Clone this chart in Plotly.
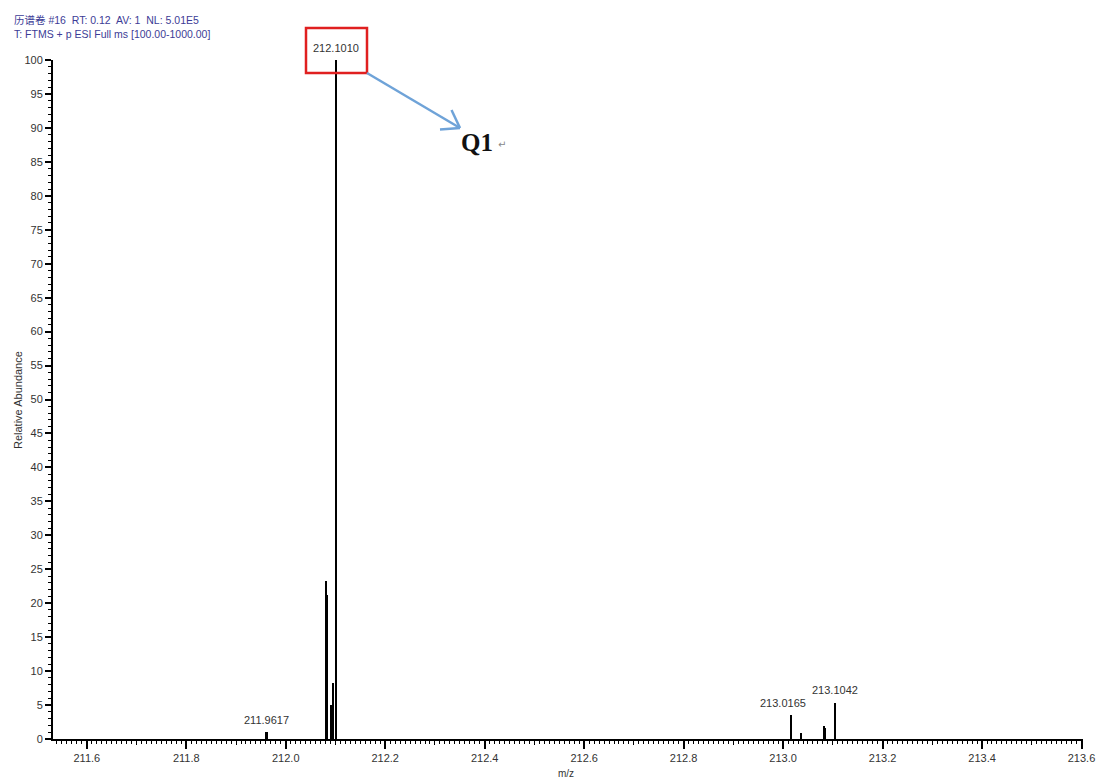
import plotly.graph_objects as go

# Centroided peaks: m/z and relative abundance (%)
mz = [211.9617, 212.0815, 212.0835, 212.0925, 212.0960, 212.1010,
      213.0165, 213.0367, 213.0830, 213.0850, 213.1042]
abundance = [1.0, 23.3, 21.2, 5.0, 8.2, 100.0,
             3.6, 0.9, 1.9, 1.6, 5.3]

# Peaks that carry an m/z label
labeled_mz = [211.9617, 212.1010, 213.0165, 213.1042]

header_lines = ["历谱卷 #16  RT: 0.12  AV: 1  NL: 5.01E5",
                "T: FTMS + p ESI Full ms [100.00-1000.00]"]

x_range = [211.532, 213.603]
y_range = [0, 100]

W, H = 1099, 782
ML, MR, MT, MB = 53, 16, 60, 43
PW, PH = W - ML - MR, H - MT - MB


def px(x):
    return (x - ML) / PW


def py(y):
    return (H - MB - y) / PH


fig = go.Figure()
fig.add_trace(go.Bar(x=mz, y=abundance,
                     width=[0.0045 if a >= 99 else 0.0032 for a in abundance],
                     marker=dict(color="black", line=dict(width=0)),
                     hoverinfo="x+y"))
# helper trace for the secondary tick axis (0.1 ticks)
fig.add_trace(go.Scatter(x=x_range, y=[None, None], xaxis="x2",
                         mode="lines", showlegend=False, hoverinfo="skip"))

tick_font = dict(family="Liberation Sans, Arial", size=11, color="#333333")

fig.update_layout(
    template="none",
    width=W, height=H,
    margin=dict(l=ML, r=MR, t=MT, b=MB, autoexpand=False),
    paper_bgcolor="white", plot_bgcolor="white",
    showlegend=False, bargap=0,
    xaxis=dict(range=x_range, dtick=0.2, tick0=211.6, tickformat=".1f",
               automargin=False,
               ticks="outside", ticklen=8, tickwidth=1.5, tickcolor="black",
               showline=True, linecolor="black", linewidth=2,
               showgrid=False, zeroline=False, tickfont=tick_font,
               minor=dict(dtick=0.01, tick0=211.6, ticks="outside",
                          ticklen=3, tickwidth=1, tickcolor="black",
                          showgrid=False)),
    xaxis2=dict(range=x_range, overlaying="x", anchor="y", side="bottom",
                automargin=False,
                dtick=0.1, tick0=211.6, ticks="outside", ticklen=5,
                tickwidth=1, tickcolor="black", showticklabels=False,
                showline=False, showgrid=False, zeroline=False),
    yaxis=dict(range=y_range, dtick=5, ticks="outside", ticklen=6,
               automargin=False,
               tickwidth=1.5, tickcolor="black",
               showline=True, linecolor="black", linewidth=2,
               showgrid=False, zeroline=False, tickfont=tick_font,
               minor=dict(dtick=1, ticks="outside", ticklen=3,
                          tickwidth=1, tickcolor="black", showgrid=False)),
)

annotations = []
label_offsets = {211.9617: (0, 4), 212.1010: (0, 4),
                 213.0165: (-8, 4), 213.1042: (0, 5)}
for m in labeled_mz:
    a = abundance[mz.index(m)]
    dx, dy = label_offsets[m]
    annotations.append(dict(x=m, y=a, xref="x", yref="y", text=f"{m:.4f}",
                            showarrow=False, xanchor="center",
                            yanchor="bottom", xshift=dx, yshift=dy,
                            font=dict(family="Liberation Sans, Arial",
                                      size=11, color="#333333")))

# header lines
for i, line in enumerate(header_lines):
    annotations.append(dict(x=px(12), y=py(20 + 14 * i), xref="paper",
                            yref="paper", text=line, showarrow=False,
                            xanchor="left", yanchor="middle",
                            font=dict(family="Liberation Sans, Noto Sans CJK SC",
                                      size=10.5, color="#3c3c96")))

# axis titles
annotations.append(dict(x=px(18), y=py(400), xref="paper", yref="paper",
                        text="Relative Abundance", textangle=-90,
                        showarrow=False, xanchor="center", yanchor="middle",
                        font=dict(family="Liberation Sans, Arial", size=11,
                                  color="#333333")))
annotations.append(dict(x=px(566), y=py(773), xref="paper", yref="paper",
                        text="m/z", showarrow=False, xanchor="center",
                        yanchor="middle",
                        font=dict(family="Liberation Sans, Arial", size=10,
                                  color="#333333")))

# Q1 callout
annotations.append(dict(x=px(459), y=py(142), xref="paper", yref="paper",
                        text="<b>Q1</b>", showarrow=False, xanchor="left",
                        yanchor="middle",
                        font=dict(family="Liberation Serif, Times New Roman",
                                  size=25, color="#111111")))
annotations.append(dict(x=px(496), y=py(144), xref="paper", yref="paper",
                        text="↵", showarrow=False, xanchor="left",
                        yanchor="middle",
                        font=dict(family="DejaVu Sans", size=10,
                                  color="#888888")))
fig.update_layout(annotations=annotations)

shapes = [
    dict(type="rect", xref="paper", yref="paper",
         x0=px(306), x1=px(367), y0=py(73), y1=py(28),
         line=dict(color="#e02020", width=2.5)),
]
arrow_color = "#6fa3d8"
head = (460, 128)
for (x0, y0) in [(367, 73), (440, 129.5), (451.5, 110)]:
    shapes.append(dict(type="line", xref="paper", yref="paper",
                       x0=px(x0), y0=py(y0), x1=px(head[0]), y1=py(head[1]),
                       line=dict(color=arrow_color, width=2.5)))
fig.update_layout(shapes=shapes)

fig.write_html("out.html")
